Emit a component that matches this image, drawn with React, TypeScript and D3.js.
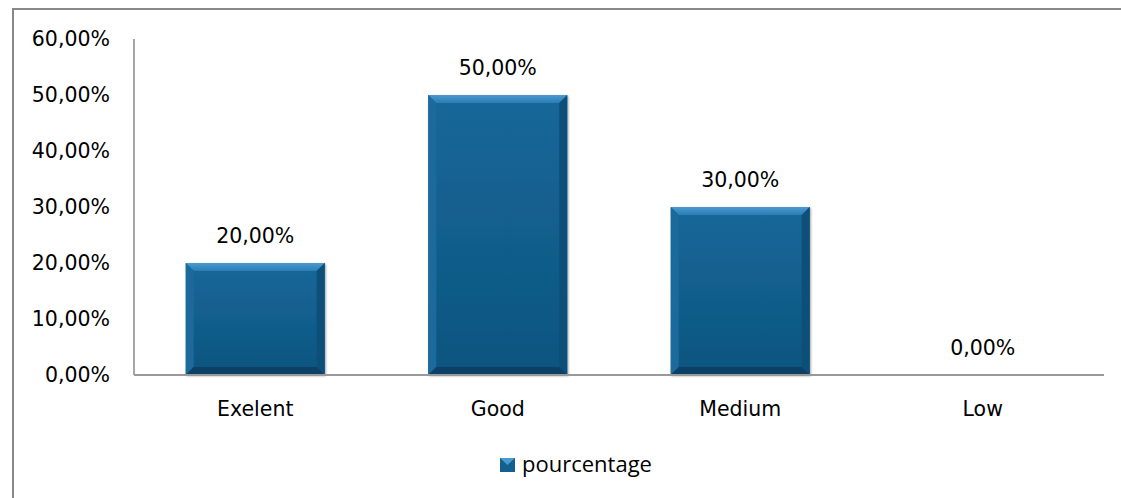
import React from "react";
import * as d3 from "d3";

const categories = ["Exelent", "Good", "Medium", "Low"];
const values = [0.2, 0.5, 0.3, 0.0];
const yTicks = [0, 0.1, 0.2, 0.3, 0.4, 0.5, 0.6];
const seriesName = "pourcentage";

const W = 1121;
const H = 498;
const fmt = (v: number) => (v * 100).toFixed(2).replace(".", ",") + "%";

export default function App() {
  const left = 134, right = 1104, top = 39, bottom = 375;
  const x = d3.scaleBand<string>().domain(categories).range([left, right]).paddingInner(0.427).paddingOuter(0.2135);
  const y = d3.scaleLinear().domain([0, 0.6]).range([bottom, top]);
  const font = "'DejaVu Sans', sans-serif";
  const fs = 20.5;
  const bev = 8;
  return (
    <svg width={W} height={H} style={{ position: "fixed", left: 0, top: 0, background: "#fff", overflow: "hidden" }}>
      <defs>
        <linearGradient id="barg" x1="0" y1="0" x2="0" y2="1">
          <stop offset="0" stopColor="#14679a" />
          <stop offset="1" stopColor="#0f557f" />
        </linearGradient>
        <linearGradient id="topb" x1="0" y1="0" x2="0" y2="1">
          <stop offset="0" stopColor="#4a9ad0" />
          <stop offset="1" stopColor="#2a7db5" />
        </linearGradient>
        <filter id="sh" x="-10%" y="-10%" width="130%" height="130%">
          <feDropShadow dx="1" dy="1" stdDeviation="1.2" floodColor="#000" floodOpacity="0.35" />
        </filter>
      </defs>
      <line x1={13} x2={13} y1={8} y2={H} stroke="#888" strokeWidth={2} />
      <line x1={12} x2={W} y1={9} y2={9} stroke="#888" strokeWidth={2} />
      {yTicks.map((t) => (
        <text key={t} x={110} y={y(t)} textAnchor="end" dominantBaseline="central" fontFamily={font} fontSize={fs} fill="#000">
          {fmt(t)}
        </text>
      ))}
      <line x1={left} x2={left} y1={top} y2={bottom} stroke="#888" strokeWidth={1.5} />
      {categories.map((c, i) => {
        const x0 = x(c)!;
        const bw = x.bandwidth();
        const y0 = y(values[i]);
        const h = bottom - y0;
        return (
          <g key={c}>
            {h > 0 && (
              <g filter="url(#sh)">
                <rect x={x0} y={y0} width={bw} height={h} fill="url(#barg)" />
                <polygon points={`${x0},${y0} ${x0 + bw},${y0} ${x0 + bw - bev},${y0 + bev} ${x0 + bev},${y0 + bev}`} fill="url(#topb)" />
                <polygon points={`${x0},${y0} ${x0 + bev},${y0 + bev} ${x0 + bev},${bottom - bev} ${x0},${bottom}`} fill="#1a6a9c" />
                <polygon points={`${x0 + bw},${y0} ${x0 + bw - bev},${y0 + bev} ${x0 + bw - bev},${bottom - bev} ${x0 + bw},${bottom}`} fill="#0e4f78" />
                <polygon points={`${x0},${bottom} ${x0 + bev},${bottom - bev} ${x0 + bw - bev},${bottom - bev} ${x0 + bw},${bottom}`} fill="#0b4166" />
              </g>
            )}
            <text x={x0 + bw / 2} y={y0 - 27} textAnchor="middle" dominantBaseline="central" fontFamily={font} fontSize={fs} fill="#000">
              {fmt(values[i])}
            </text>
            <text x={x0 + bw / 2} y={409} textAnchor="middle" dominantBaseline="central" fontFamily={font} fontSize={fs} fill="#000">
              {c}
            </text>
          </g>
        );
      })}
      <line x1={left} x2={right} y1={bottom} y2={bottom} stroke="#999" strokeWidth={2} />
      <g>
        <rect x={500} y={458} width={15} height={14} fill="#13608f" />
        <polygon points="500,458 515,458 507.5,465" fill="#4a9ad0" />
        <text x={522} y={472} fontFamily="'Open Sans', sans-serif" fontSize={22} fill="#000">
          {seriesName}
        </text>
      </g>
    </svg>
  );
}
